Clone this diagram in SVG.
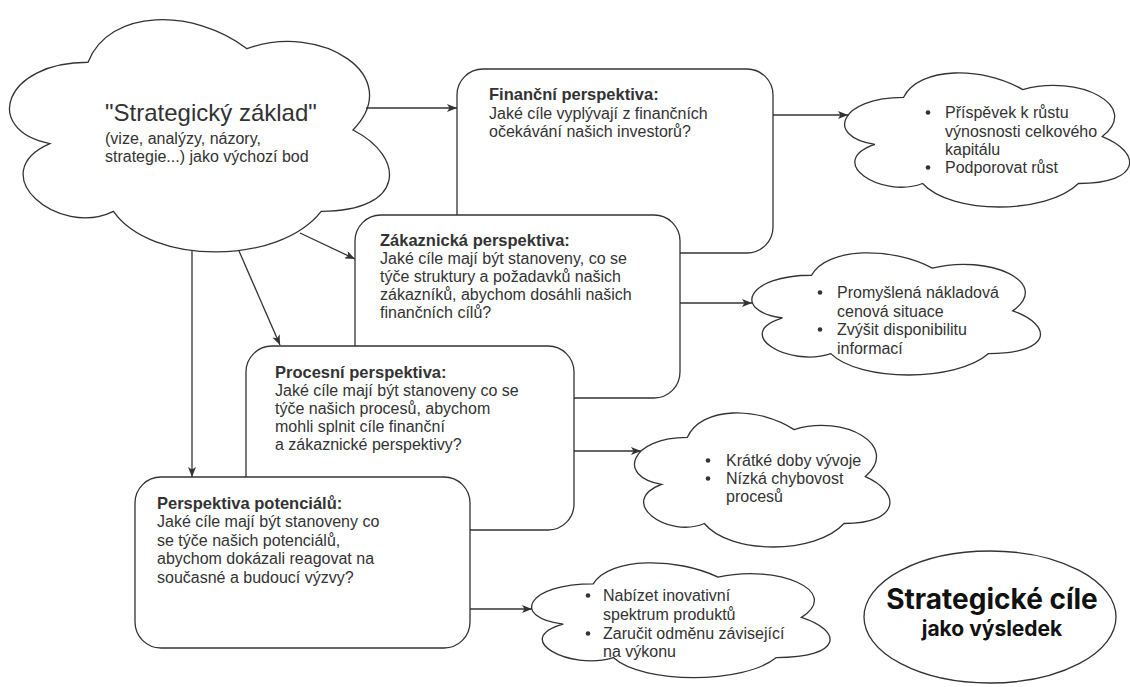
<svg xmlns="http://www.w3.org/2000/svg" width="1130" height="687" viewBox="0 0 1130 687">
<defs>
<style>
.shape{fill:#fff;stroke:#333;stroke-width:1.3}
.t{font-family:"Liberation Sans",Arial,sans-serif;font-size:16px;fill:#333}
.b{font-weight:bold;font-size:16.5px}
.conn{stroke:#333;stroke-width:1.3;fill:none;marker-end:url(#arr)}
.dot{fill:#333}
.goal{font-family:Inter,"Liberation Sans",sans-serif;font-weight:bold;fill:#111;text-anchor:middle}
</style>
<marker id="arr" markerUnits="userSpaceOnUse" viewBox="0 0 10 8" refX="10" refY="4" markerWidth="10" markerHeight="8" orient="auto">
<path d="M0,0 L10,4 L0,8 L2.5,4 Z" fill="#333"/>
</marker>
</defs>
<rect width="1130" height="687" fill="#fff"/>

<g id="zaklad">
<path class="shape" d="M 88,62.25 C 3.2,62.25 -18,130 49.84,143.55 C -18,173.36 58.32,238.4 113.44,211.3 C 151.6,265.5 278.8,265.5 321.2,211.3 C 406,211.3 406,157.1 353,130 C 406,75.8 321.2,21.6 247,48.7 C 194,8.05 109.2,8.05 88,62.25 Z"/>
<text class="t" x="105" y="121" style="font-size:24px">"Strategický základ"</text>
<text class="t" x="105" y="144">(vize, analýzy, názory,</text>
<text class="t" x="105" y="162">strategie...) jako výchozí bod</text>
</g>

<g id="financni">
<rect class="shape" x="457" y="69" width="316" height="184" rx="26" ry="26"/>
<text class="t"><tspan class="b" x="489" y="100">Finanční perspektiva:</tspan><tspan x="489" y="119">Jaké cíle vyplývají z finančních</tspan><tspan x="489" y="137">očekávání našich investorů?</tspan></text>
</g>

<g id="zakaznicka">
<rect class="shape" x="355" y="215" width="325" height="183" rx="26" ry="26"/>
<text class="t"><tspan class="b" x="380" y="246">Zákaznická perspektiva:</tspan><tspan x="380" y="264">Jaké cíle mají být stanoveny, co se</tspan><tspan x="380" y="282">týče struktury a požadavků našich</tspan><tspan x="380" y="300">zákazníků, abychom dosáhli našich</tspan><tspan x="380" y="318">finančních cílů?</tspan></text>
</g>

<g id="procesni">
<rect class="shape" x="246" y="346" width="328" height="184" rx="26" ry="26"/>
<text class="t"><tspan class="b" x="275" y="378">Procesní perspektiva:</tspan><tspan x="275" y="396">Jaké cíle mají být stanoveny co se</tspan><tspan x="275" y="414">týče našich procesů, abychom</tspan><tspan x="275" y="432">mohli splnit cíle finanční</tspan><tspan x="275" y="450">a zákaznické perspektivy?</tspan></text>
</g>

<g id="potencialy">
<rect class="shape" x="135" y="477" width="335" height="171" rx="26" ry="26"/>
<text class="t"><tspan class="b" x="157" y="509">Perspektiva potenciálů:</tspan><tspan x="157" y="527">Jaké cíle mají být stanoveny co</tspan><tspan x="157" y="546">se týče našich potenciálů,</tspan><tspan x="157" y="564">abychom dokázali reagovat na</tspan><tspan x="157" y="583">současné a budoucí výzvy?</tspan></text>
</g>

<g id="cil-financni">
<path class="shape" d="M 903.5,97.43 C 839.9,97.43 824,136.55 874.88,144.38 C 824,161.59 881.24,199.15 922.58,183.5 C 951.2,214.8 1046.6,214.8 1078.4,183.5 C 1142,183.5 1142,152.2 1102.25,136.55 C 1142,105.25 1078.4,73.95 1022.75,89.6 C 983,66.13 919.4,66.13 903.5,97.43 Z"/>
<circle class="dot" cx="928" cy="112.5" r="2.3"/>
<circle class="dot" cx="928" cy="167.5" r="2.3"/>
<text class="t"><tspan x="945" y="118">Příspěvek k růstu</tspan><tspan x="945" y="137">výnosnosti celkového</tspan><tspan x="945" y="155">kapitálu</tspan><tspan x="945" y="173">Podporovat růst</tspan></text>
</g>

<g id="cil-zakaznicky">
<path class="shape" d="M 811.5,275.23 C 747.1,275.23 731,310.85 782.52,317.98 C 731,333.65 788.96,367.85 830.82,353.6 C 859.8,382.1 956.4,382.1 988.6,353.6 C 1053,353.6 1053,325.1 1012.75,310.85 C 1053,282.35 988.6,253.85 932.25,268.1 C 892,246.73 827.6,246.73 811.5,275.23 Z"/>
<circle class="dot" cx="820" cy="292.5" r="2.3"/>
<circle class="dot" cx="820" cy="329.5" r="2.3"/>
<text class="t"><tspan x="837" y="298">Promyšlená nákladová</tspan><tspan x="837" y="317">cenová situace</tspan><tspan x="837" y="335">Zvýšit disponibilitu</tspan><tspan x="837" y="354">informací</tspan></text>
</g>

<g id="cil-procesni">
<path class="shape" d="M 687.25,437.43 C 630.25,437.43 616,476.55 661.6,484.38 C 616,501.59 667.3,539.15 704.35,523.5 C 730,554.8 815.5,554.8 844,523.5 C 901,523.5 901,492.2 865.38,476.55 C 901,445.25 844,413.95 794.13,429.6 C 758.5,406.13 701.5,406.13 687.25,437.43 Z"/>
<circle class="dot" cx="708" cy="460.5" r="2.3"/>
<circle class="dot" cx="708" cy="478.5" r="2.3"/>
<text class="t"><tspan x="726" y="466">Krátké doby vývoje</tspan><tspan x="726" y="484">Nízká chybovost</tspan><tspan x="726" y="502">procesů</tspan></text>
</g>

<g id="cil-potencialy">
<path class="shape" d="M 593.25,583.9 C 526.65,583.9 510,617.4 563.28,624.1 C 510,638.84 569.94,671 613.23,657.6 C 643.2,684.4 743.1,684.4 776.4,657.6 C 843,657.6 843,630.8 801.38,617.4 C 843,590.6 776.4,563.8 718.13,577.2 C 676.5,557.1 609.9,557.1 593.25,583.9 Z"/>
<circle class="dot" cx="588" cy="595.5" r="2.3"/>
<circle class="dot" cx="588" cy="633.5" r="2.3"/>
<text class="t"><tspan x="603" y="601">Nabízet inovativní</tspan><tspan x="603" y="620">spektrum produktů</tspan><tspan x="603" y="639">Zaručit odměnu závisející</tspan><tspan x="603" y="657">na výkonu</tspan></text>
</g>

<g id="vysledek">
<ellipse class="shape" cx="990" cy="617" rx="126" ry="66"/>
<text class="goal" x="992" y="609" style="font-size:28px">Strategické cíle</text>
<text class="goal" x="992" y="636" style="font-size:21px">jako výsledek</text>
</g>

<g id="connectors">
<path class="conn" d="M366,108 L457,108"/>
<path class="conn" d="M773,115 L848,115"/>
<path class="conn" d="M300,233 L355,259"/>
<path class="conn" d="M239,251 L280,345"/>
<path class="conn" d="M192,250 L192,477"/>
<path class="conn" d="M680,303 L752,303"/>
<path class="conn" d="M574,451 L641,451"/>
<path class="conn" d="M470,609 L532,609"/>
</g>
</svg>
